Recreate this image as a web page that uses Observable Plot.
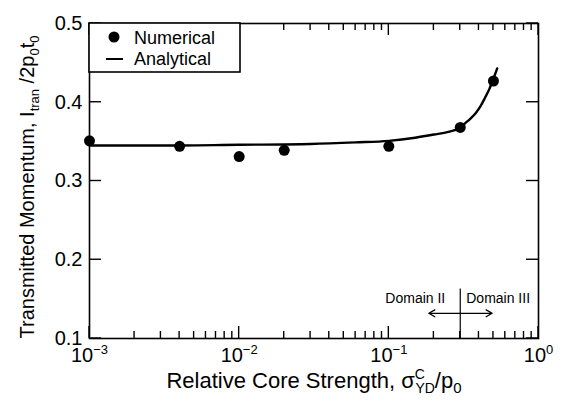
<!DOCTYPE html>
<html><head><meta charset="utf-8">
<script src="https://cdn.jsdelivr.net/npm/d3@7"></script>
<script src="https://cdn.jsdelivr.net/npm/@observablehq/plot@0.6"></script>
<style>
body{margin:0;background:#fff;font-family:"Liberation Sans",Arial,sans-serif}
svg{display:block}
</style>
</head><body><div id="chart"></div>
<script>
// Numerical results (dots)
const numX = [0.001, 0.004, 0.01, 0.02, 0.1, 0.3, 0.5];
const numY = [0.351, 0.344, 0.331, 0.339, 0.344, 0.368, 0.427];
// Analytical curve (line)
const anaX = [0.001, 0.003, 0.01, 0.03, 0.06, 0.1, 0.15, 0.2, 0.25, 0.3, 0.32, 0.35, 0.38, 0.41, 0.44, 0.47, 0.5, 0.53];
const anaY = [0.345, 0.345, 0.346, 0.347, 0.349, 0.351, 0.355, 0.359, 0.3625, 0.368, 0.3726, 0.379, 0.386, 0.395, 0.406, 0.417, 0.430, 0.443];
// Axis ticks
const xTicks = [0.001, 0.01, 0.1, 1];
const yTicks = [0.1, 0.2, 0.3, 0.4, 0.5];
// Domain annotation
const domainBoundary = [0.3];
const domainRuleTop = [0.163];
const domainArrowEnds = [0.185, 0.49];
const domainArrowY = [0.132];
const domainTextY = [0.151];
const domainLabels = ["Domain II", "Domain III"];
const legendLabels = ["Numerical", "Analytical"];

const numerical = numX.map((x, i) => ({x, y: numY[i]}));
const analytical = anaX.map((x, i) => ({x, y: anaY[i]}));
const xMinor = d3.scaleLog().domain([1e-3, 1]).ticks().filter(v => !xTicks.some(t => Math.abs(v - t) / t < 1e-9));
const arrows = domainArrowEnds.map(e => ({x1: domainBoundary[0], x2: e, y: domainArrowY[0]}));

const FONT = "Liberation Sans, Arial, Helvetica, sans-serif";
const W = 566, H = 405, ML = 89, MR = 28, MT = 23, MB = 67;
const MAJ = 12, MIN = 7, TW = 1.4;

const plot = Plot.plot({
  width: W, height: H,
  marginLeft: ML, marginRight: MR, marginTop: MT, marginBottom: MB,
  style: {fontFamily: FONT, fontSize: "20px", background: "white", color: "black"},
  x: {type: "log", domain: [1e-3, 1], label: null},
  y: {domain: [0.1, 0.5], label: null},
  marks: [
    Plot.frame({fill: "none", stroke: "black", strokeWidth: 1.6}),
    // tick labels
    Plot.axisX({ticks: xTicks, anchor: "bottom", tickSize: 0, tickPadding: 9, fontSize: 20,
      tickFormat: d => "10^" + Math.round(Math.log10(d)), label: null}),
    Plot.axisY({ticks: yTicks, anchor: "left", tickSize: 0, tickPadding: 7, fontSize: 20,
      tickFormat: d3.format(".1f"), label: null}),
    // domain annotation
    Plot.ruleX(domainBoundary, {y1: 0.1, y2: domainRuleTop[0], strokeWidth: 1.2}),
    Plot.arrow(arrows, {x1: "x1", x2: "x2", y1: "y", y2: "y", headLength: 8, strokeWidth: 1.3, bend: 0}),
    Plot.text([domainLabels[0]], {x: domainBoundary, y: domainTextY, text: d => d, textAnchor: "end", dx: -15, fontSize: 14}),
    Plot.text([domainLabels[1]], {x: domainBoundary, y: domainTextY, text: d => d, textAnchor: "start", dx: 6, fontSize: 14}),
    // data
    Plot.line(analytical, {x: "x", y: "y", strokeWidth: 2.4, curve: "monotone-x"}),
    Plot.dot(numerical, {x: "x", y: "y", r: 5.5, fill: "black"})
  ]
});

const svg = d3.select(plot);
const sx = plot.scale("x"), sy = plot.scale("y");
const x0 = ML, x1 = W - MR, y0 = H - MB, y1 = MT;

// inward ticks on all four sides, positioned with Plot's own scales
const tg = svg.append("g").attr("stroke", "black").attr("stroke-width", TW);
const xt = [...xTicks.map(v => [v, MAJ]), ...xMinor.map(v => [v, MIN])];
for (const [v, len] of xt) {
  const px = sx.apply(v);
  tg.append("line").attr("x1", px).attr("x2", px).attr("y1", y0).attr("y2", y0 - len);
  tg.append("line").attr("x1", px).attr("x2", px).attr("y1", y1).attr("y2", y1 + len);
}
for (const v of yTicks) {
  const py = sy.apply(v);
  tg.append("line").attr("x1", x0).attr("x2", x0 + MAJ).attr("y1", py).attr("y2", py);
  tg.append("line").attr("x1", x1).attr("x2", x1 - MAJ).attr("y1", py).attr("y2", py);
}

// superscript exponents on x tick labels
svg.selectAll("text").each(function() {
  const s = d3.select(this).text();
  if (!/^10\^/.test(s)) return;
  const exp = s.slice(3).replace("-", "\u2212");
  const t = d3.select(this).text(null);
  t.append("tspan").text("10");
  t.append("tspan").attr("dy", "-8").attr("font-size", 13).text(exp);
});

// axis titles
const yl = svg.append("text").attr("transform", "translate(34,187) rotate(-90)")
  .attr("text-anchor", "middle").attr("font-family", FONT).attr("font-size", 20).attr("fill", "black");
yl.append("tspan").text("Transmitted Momentum, I");
yl.append("tspan").attr("font-size", 13).attr("dy", 5).text("tran");
yl.append("tspan").attr("dy", -5).text(" /2p");
yl.append("tspan").attr("font-size", 13).attr("dy", 5).text("0");
yl.append("tspan").attr("dy", -5).text("t");
yl.append("tspan").attr("font-size", 13).attr("dy", 5).text("0");

const xl = svg.append("text").attr("transform", "translate(314,388)")
  .attr("text-anchor", "middle").attr("font-family", FONT).attr("font-size", 22).attr("fill", "black");
xl.append("tspan").text("Relative Core Strength, \u03C3");
xl.append("tspan").attr("font-size", 14).attr("dy", -9).text("C");
xl.append("tspan").attr("font-size", 14).attr("dy", 14).attr("dx", -9.5).text("YD");
xl.append("tspan").attr("dy", -5).text("/p");
xl.append("tspan").attr("font-size", 15).attr("dy", 5).text("0");

// legend box
const lg = svg.append("g").attr("font-family", FONT).attr("font-size", 18).attr("text-anchor", "start");
lg.append("rect").attr("x", 89).attr("y", 23).attr("width", 151).attr("height", 49)
  .attr("fill", "white").attr("stroke", "black").attr("stroke-width", 1.6);
lg.append("circle").attr("cx", 114).attr("cy", 37).attr("r", 5.5).attr("fill", "black");
lg.append("text").attr("x", 134).attr("y", 44).attr("text-anchor", "start").text(legendLabels[0]);
lg.append("line").attr("x1", 106).attr("x2", 123).attr("y1", 59).attr("y2", 59).attr("stroke", "black").attr("stroke-width", 2);
lg.append("text").attr("x", 134).attr("y", 65).attr("text-anchor", "start").text(legendLabels[1]);

document.getElementById("chart").appendChild(plot);
</script>
</body></html>
